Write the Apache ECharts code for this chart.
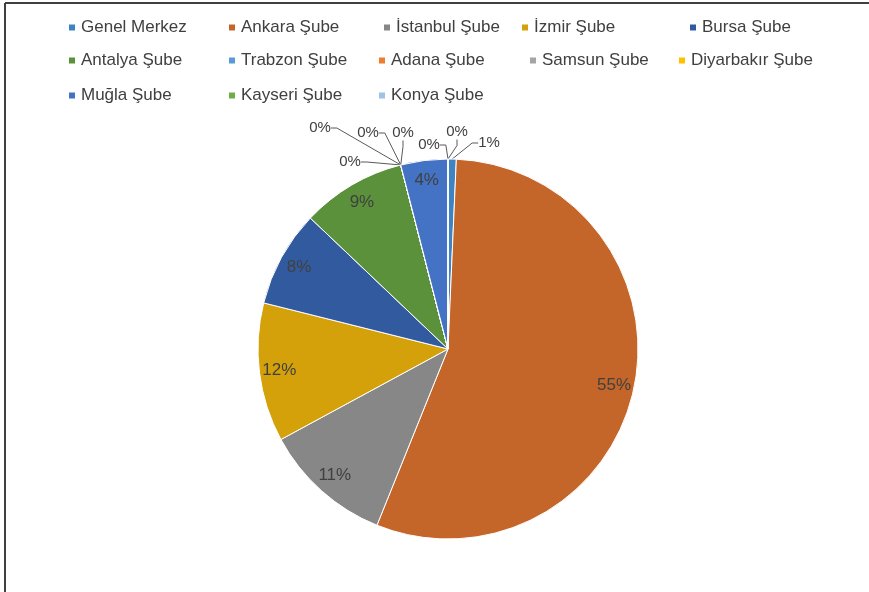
<!DOCTYPE html>
<html lang="tr">
<head>
<meta charset="utf-8">
<title>Şube dağılımı</title>
<script src="https://cdn.jsdelivr.net/npm/echarts@6/dist/echarts.min.js"></script>
<style>
    html, body { margin: 0; padding: 0; background: #fff; }
    #main { width: 869px; height: 592px; }
</style>
</head>
<body>
<div id="main"></div>
<script>
    // veriler
    var subeler = ['Genel Merkez', 'Ankara Şube', 'İstanbul Şube', 'İzmir Şube', 'Bursa Şube',
        'Antalya Şube', 'Trabzon Şube', 'Adana Şube', 'Samsun Şube', 'Diyarbakır Şube',
        'Muğla Şube', 'Kayseri Şube', 'Konya Şube'];
    var degerler = [0.7, 55.4, 11.0, 11.8, 8.2, 8.9, 0, 0, 0, 0, 4.0, 0, 0];
    var renkler = ['#3F83C3', '#C4652A', '#878787', '#D4A10B', '#325A9E', '#5A913A',
        '#5B9BD5', '#ED7D31', '#A5A5A5', '#FFC000', '#4472C4', '#70AD47', '#9DC3E6'];

    // legend yerleşimi (Excel'deki gibi 3 satır)
    var legendSol = [67, 227, 382, 520, 688, 67, 227, 377, 528, 677, 67, 227, 377];
    var legendSatir = [0, 0, 0, 0, 0, 1, 1, 1, 1, 1, 2, 2, 2];
    var satirUst = [19, 52, 87];

    // dışarıdaki küçük etiketlerin yeri (Excel'deki gibi dağıtılmış)
    var etiketYer = {
        0: [489, 143],
        6: [350, 162],
        7: [320, 128],
        8: [368, 133],
        9: [403, 133],
        11: [429, 145],
        12: [457, 132]
    };

    var myChart = echarts.init(document.getElementById('main'));

    var yaziTipi = '"Liberation Sans", Arial, sans-serif';

    var legends = [];
    for (var i = 0; i < subeler.length; i++) {
        legends.push({
            data: [subeler[i]],
            left: legendSol[i],
            top: satirUst[legendSatir[i]],
            padding: 0,
            icon: 'rect',
            itemWidth: 8,
            itemHeight: 8,
            itemGap: 0,
            selectedMode: false,
            textStyle: { color: '#404040', fontSize: 17, fontFamily: yaziTipi }
        });
    }

    var anaVeri = [], etiketVeri = [];
    for (var j = 0; j < subeler.length; j++) {
        var kucuk = degerler[j] < 2;
        anaVeri.push({
            name: subeler[j],
            value: degerler[j],
            itemStyle: { color: renkler[j] },
            label: { show: kucuk }
        });
        etiketVeri.push({
            name: subeler[j],
            value: degerler[j],
            label: { show: !kucuk }
        });
    }

    function yuzde(p) { return Math.round(p.percent) + '%'; }

    var option = {
        animation: false,
        legend: legends,
        graphic: [
            { type: 'line', shape: { x1: 5, y1: 3, x2: 869, y2: 3 }, style: { stroke: '#404040', lineWidth: 2 } },
            { type: 'line', shape: { x1: 5, y1: 3, x2: 5, y2: 592 }, style: { stroke: '#404040', lineWidth: 2 } }
        ],
        series: [
            {
                name: 'ana',
                type: 'pie',
                center: [448, 349],
                radius: 190,
                startAngle: 90,
                clockwise: true,
                avoidLabelOverlap: false,
                itemStyle: { borderColor: '#fff', borderWidth: 1 },
                label: {
                    position: 'outside',
                    formatter: yuzde,
                    color: '#404040',
                    fontSize: 15,
                    fontFamily: yaziTipi
                },
                labelLine: {
                    length: 8,
                    length2: 6,
                    lineStyle: { color: '#595959', width: 1 }
                },
                labelLayout: function (params) {
                    var yer = etiketYer[params.dataIndex];
                    if (!yer) return;
                    return { x: yer[0], y: yer[1], align: 'center', verticalAlign: 'middle' };
                },
                emphasis: { disabled: true },
                data: anaVeri
            },
            {
                name: 'etiket',
                type: 'pie',
                center: [448, 349],
                radius: [144, 190],
                startAngle: 90,
                clockwise: true,
                silent: true,
                itemStyle: { color: 'rgba(0,0,0,0)', borderWidth: 0 },
                label: {
                    position: 'inside',
                    formatter: yuzde,
                    color: '#404040',
                    fontSize: 17,
                    fontFamily: yaziTipi
                },
                labelLine: { show: false },
                emphasis: { disabled: true },
                data: etiketVeri
            }
        ]
    };

    myChart.setOption(option);
</script>
</body>
</html>
